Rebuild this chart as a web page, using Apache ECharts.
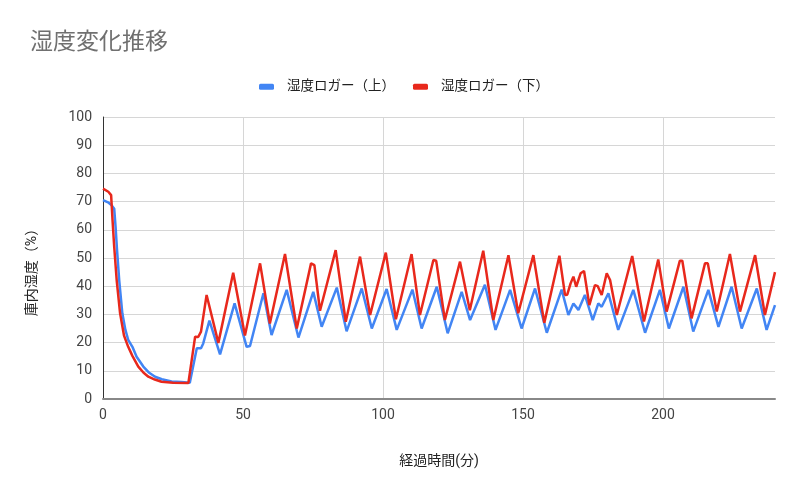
<!DOCTYPE html>
<html>
<head>
<meta charset="utf-8">
<title>湿度変化推移</title>
<script src="https://cdn.jsdelivr.net/npm/echarts@6/dist/echarts.min.js"></script>
<style>
    html, body { margin: 0; padding: 0; background: #fff; }
    #humidChart { width: 800px; height: 495px; }
</style>
</head>
<body>
<div id="humidChart"></div>
<script>
    // 湿度ロガー（上）: 経過時間(分) と 湿度(%)
    var upperTime = [0, 2, 3, 4, 4.5, 5, 5.8, 6.9, 8, 9, 10.5, 12, 14.4, 16.5, 18.6, 21, 24.5, 28, 31,
        33.5, 35, 35.8, 38, 41.8, 47, 51.3, 52.5, 57.3, 60.2, 65.6, 69.8, 75.1, 78.1, 83.5, 87, 92.4, 96,
        101.3, 104.9, 110.5, 113.8, 119.2, 123.1, 128.1, 131.1, 136.4, 140.2, 145.4, 149.5, 154.3, 158.5,
        163.8, 166.2, 168, 169.8, 172.1, 174.9, 176.9, 178.1, 180.5, 184, 189.4, 193.6, 198.9, 202.1,
        207.3, 210.8, 216.2, 219.8, 224.5, 228.1, 233.5, 237, 240];
    var upperHumid = [70.5, 69.6, 68.8, 67.5, 61, 53, 42, 30.4, 24.5, 21, 18.5, 15, 11.5, 9.3, 7.9, 7, 6.2, 6, 5.8,
        18, 18, 19.7, 27.8, 15.8, 33.9, 18.5, 18.8, 37.5, 22.7, 38.7, 21.8, 38, 25.6, 39.5, 24, 39.2, 25,
        39, 24.5, 38.8, 25, 39.8, 23.3, 38, 28, 40.5, 24.5, 38.7, 25, 39.2, 23.5,
        38.8, 29.8, 33.9, 31.6, 36.9, 28, 33.9, 32.7, 37.5, 24.5, 38.7, 23.5, 38.7, 25,
        39.8, 23.9, 38.7, 25.6, 39.8, 25, 39.2, 24.5, 33.3];

    // 湿度ロガー（下）
    var lowerTime = [0, 1.9, 2.9, 3.4, 4, 4.9, 6.1, 7.5, 9, 10.5, 12.6, 14.5, 16.2, 18.5, 20.9, 25, 30.5,
        32.9, 34, 35, 37, 41.2, 46.5, 47.2, 50.7, 56.1, 59.6, 65, 69.2, 74.3, 75.5, 77.5, 83.1, 86.7,
        91.8, 95.4, 101, 104.6, 110.2, 113.2, 118, 119, 122.1, 127.5, 131, 135.8, 139.4, 144.8, 148.3,
        153.7, 157.6, 163, 165, 165.8, 167, 168, 169, 170.6, 171.8, 173.7, 175.7, 176.7, 178.1, 179.9,
        181.1, 183.5, 183.9, 189, 193.2, 198.3, 201.3, 206, 206.9, 210.2, 215, 216, 219.2, 223.9, 227.5,
        232.9, 236.4, 240];
    var lowerHumid = [74.6, 73.5, 72.3, 63.5, 54, 42, 30.4, 22.5, 18.5, 15.3, 11.5, 9.3, 7.9, 6.9, 6.1, 5.8, 5.7,
        22.1, 22, 23.9, 36.9, 19.9, 44.8, 44.8, 22.5, 48.1, 26.8, 51.4, 25, 48.1, 47.5, 31.3, 52.8, 27.4,
        50.5, 29.8, 51.9, 28.3, 51.4, 29.8, 49.3, 49, 28, 48.7, 31.5, 52.6, 28, 51, 30.4,
        51, 27, 50.8, 36.9, 37, 41, 43.4, 39.8, 44.6, 45.4, 33.3, 40.4, 40, 36.9, 44.6,
        42.2, 29.8, 29.4, 50.7, 27.5, 49.5, 31, 49, 49, 28.6, 48.1, 48.1, 31, 51.4, 31,
        51, 29.8, 45];

    var seriesNames = ['湿度ロガー（上）', '湿度ロガー（下）'];
    var xTicks = [0, 50, 100, 150, 200];

    var fontJa = 'Roboto, "Noto Sans CJK JP", sans-serif';

    function toPairs(times, values){
        var out = [];
        for (var i = 0; i < times.length; i++){
            out.push([times[i], values[i]]);
        }
        return out;
    }

    var myChart = echarts.init(document.getElementById('humidChart'));
    var option = {
        animation : false,
        color : ['#4285f4', '#e8281c'],
        title : {
            text : '湿度変化推移',
            left : 25,
            top : 27,
            textStyle : {
                fontFamily : fontJa,
                fontWeight : 'normal',
                fontSize : 23,
                color : '#707070'
            }
        },
        legend : {
            left : 254,
            top : 75,
            itemWidth : 15,
            itemHeight : 6,
            itemGap : 18,
            icon : 'roundRect',
            data : seriesNames,
            textStyle : {
                fontFamily : fontJa,
                fontSize : 13.5,
                color : '#222',
                padding : [0, 0, 0, 8]
            }
        },
        grid : {
            left : 103,
            right : 25,
            top : 117,
            bottom : 96
        },
        xAxis : {
            type : 'value',
            min : 0,
            max : 240,
            interval : 50,
            name : '経過時間(分)',
            nameLocation : 'middle',
            nameGap : 56,
            nameTextStyle : {
                fontFamily : fontJa,
                fontSize : 14,
                color : '#222'
            },
            axisLine : { lineStyle : { color : '#888', width : 2 } },
            axisTick : { show : false },
            axisLabel : {
                showMaxLabel : false,
                margin : 10,
                fontFamily : fontJa,
                fontSize : 14,
                color : '#444',
                formatter : function (v) {
                    return xTicks.indexOf(v) >= 0 ? String(v) : '';
                }
            },
            splitLine : {
                show : true,
                showMinLine : false,
                showMaxLine : false,
                lineStyle : { color : '#d6d6d6', width : 1 }
            }
        },
        yAxis : {
            type : 'value',
            min : 0,
            max : 100,
            interval : 10,
            name : '庫内湿度（%）',
            nameLocation : 'middle',
            nameRotate : 90,
            nameGap : 64,
            nameTextStyle : {
                fontFamily : fontJa,
                fontSize : 14,
                color : '#222',
                padding : [0, 22, 0, 0]
            },
            axisLine : { show : true, lineStyle : { color : '#333', width : 1 } },
            axisTick : { show : false },
            axisLabel : {
                margin : 11,
                fontFamily : fontJa,
                fontSize : 14,
                color : '#444'
            },
            splitLine : { lineStyle : { color : '#d6d6d6', width : 1 } }
        },
        series : [
            {
                name : seriesNames[0],
                type : 'line',
                symbol : 'none',
                lineStyle : { width : 2.5 },
                data : toPairs(upperTime, upperHumid)
            },
            {
                name : seriesNames[1],
                type : 'line',
                symbol : 'none',
                lineStyle : { width : 2.5 },
                data : toPairs(lowerTime, lowerHumid)
            }
        ]
    };
    myChart.setOption(option);
</script>
</body>
</html>
